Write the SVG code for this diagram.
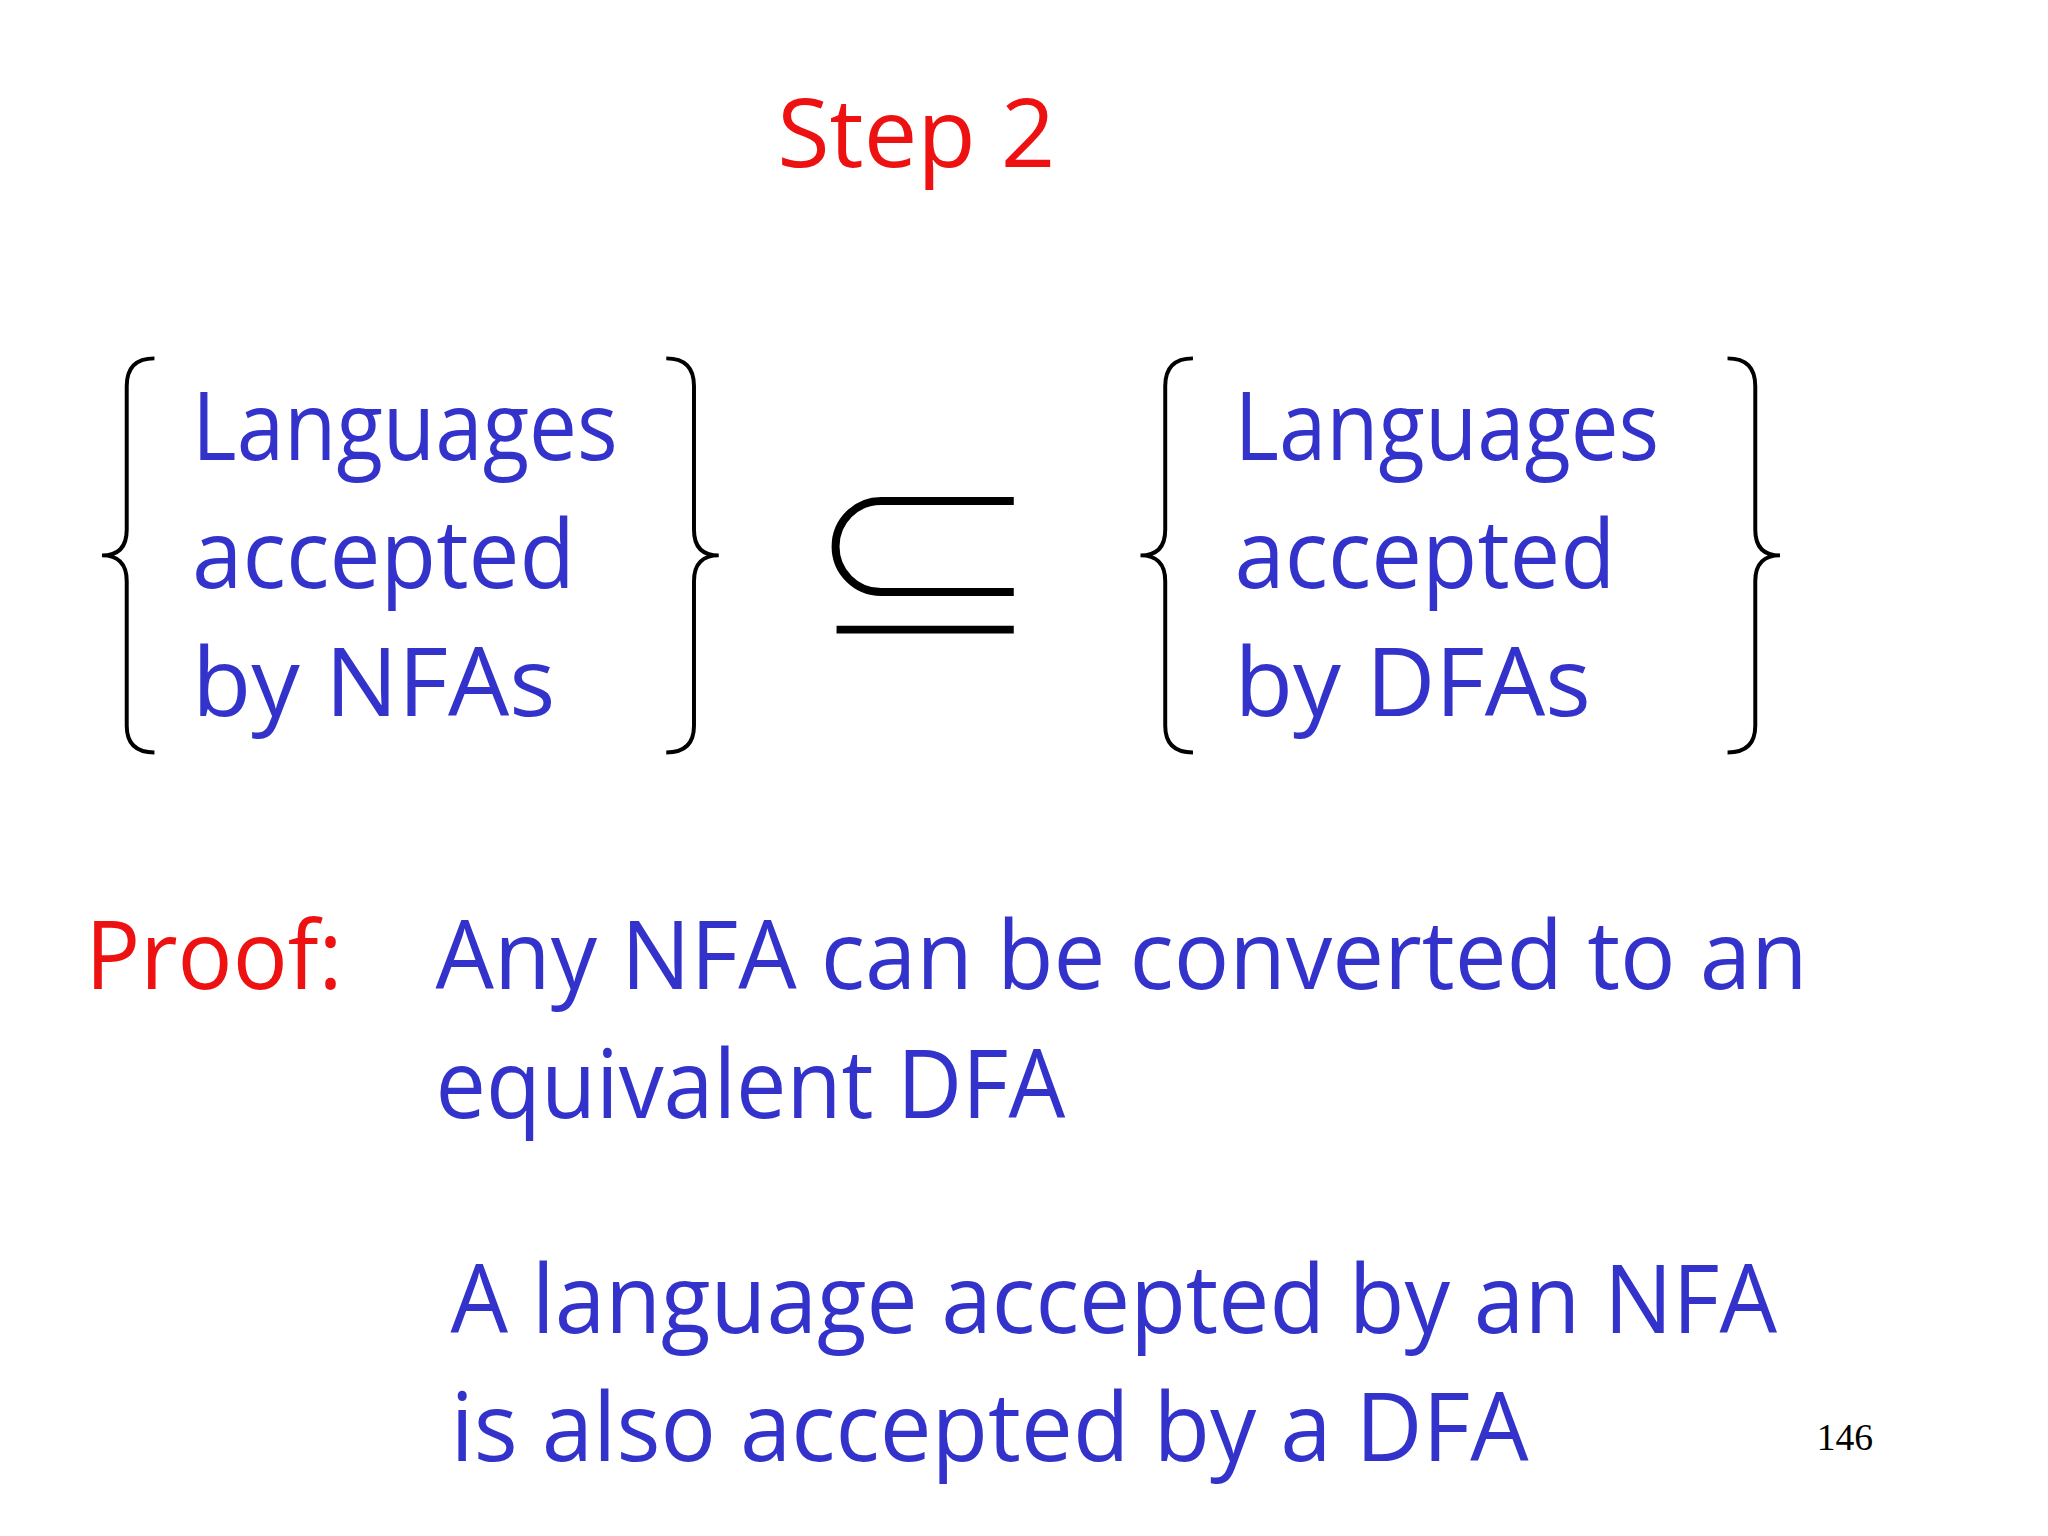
<svg xmlns="http://www.w3.org/2000/svg" width="2048" height="1536" viewBox="0 0 2048 1536">
<style>
.b{fill:#3333cc;font-family:"Open Sans","Liberation Sans",sans-serif;font-size:96px}
.r{fill:#ee1111;font-family:"Open Sans","Liberation Sans",sans-serif;font-size:96px}
.br{fill:none;stroke:#000;stroke-width:4}
</style>
<rect width="2048" height="1536" fill="#fff"/>
<g transform="scale(0.99)">
<g id="title"><text class="r" x="785" y="169" textLength="281" lengthAdjust="spacingAndGlyphs">Step 2</text></g>
<g id="nfa-set">
<path class="br" d="M156,362 Q128,362 128,390 L128,535 Q128,561 103,561 Q128,561 128,587 L128,733 Q128,760 156,760"/>
<path class="br" d="M673,362 Q701,362 701,390 L701,535 Q701,561 726,561 Q701,561 701,587 L701,733 Q701,760 673,760"/>
<text class="b" x="194" y="465" textLength="430" lengthAdjust="spacingAndGlyphs">Languages</text>
<text class="b" x="194" y="594" textLength="387" lengthAdjust="spacingAndGlyphs">accepted</text>
<text class="b" x="194" y="723" textLength="367" lengthAdjust="spacingAndGlyphs">by NFAs</text>
</g>
<g id="subset">
<path d="M1024,506 H890 A46,46 0 0 0 890,598 H1024" fill="none" stroke="#000" stroke-width="8"/>
<line x1="845" y1="636" x2="1024" y2="636" stroke="#000" stroke-width="8"/>
</g>
<g id="dfa-set">
<path class="br" d="M1205,362 Q1177,362 1177,390 L1177,535 Q1177,561 1152,561 Q1177,561 1177,587 L1177,733 Q1177,760 1205,760"/>
<path class="br" d="M1745,362 Q1773,362 1773,390 L1773,535 Q1773,561 1798,561 Q1773,561 1773,587 L1773,733 Q1773,760 1745,760"/>
<text class="b" x="1247" y="465" textLength="429" lengthAdjust="spacingAndGlyphs">Languages</text>
<text class="b" x="1247" y="594" textLength="385" lengthAdjust="spacingAndGlyphs">accepted</text>
<text class="b" x="1247" y="723" textLength="360" lengthAdjust="spacingAndGlyphs">by DFAs</text>
</g>
<g id="proof">
<text class="r" x="86" y="999" textLength="260" lengthAdjust="spacingAndGlyphs">Proof:</text>
<text class="b" x="440" y="999" textLength="1386" lengthAdjust="spacingAndGlyphs">Any NFA can be converted to an</text>
<text class="b" x="440" y="1129" textLength="636" lengthAdjust="spacingAndGlyphs">equivalent DFA</text>
</g>
<g id="conclusion">
<text class="b" x="455" y="1346" textLength="1340" lengthAdjust="spacingAndGlyphs">A language accepted by an NFA</text>
<text class="b" x="455" y="1476" textLength="1089" lengthAdjust="spacingAndGlyphs">is also accepted by a DFA</text>
</g>
<text x="1835" y="1465" font-family="Liberation Serif,serif" font-size="38" fill="#000">146</text>
</g>
</svg>
